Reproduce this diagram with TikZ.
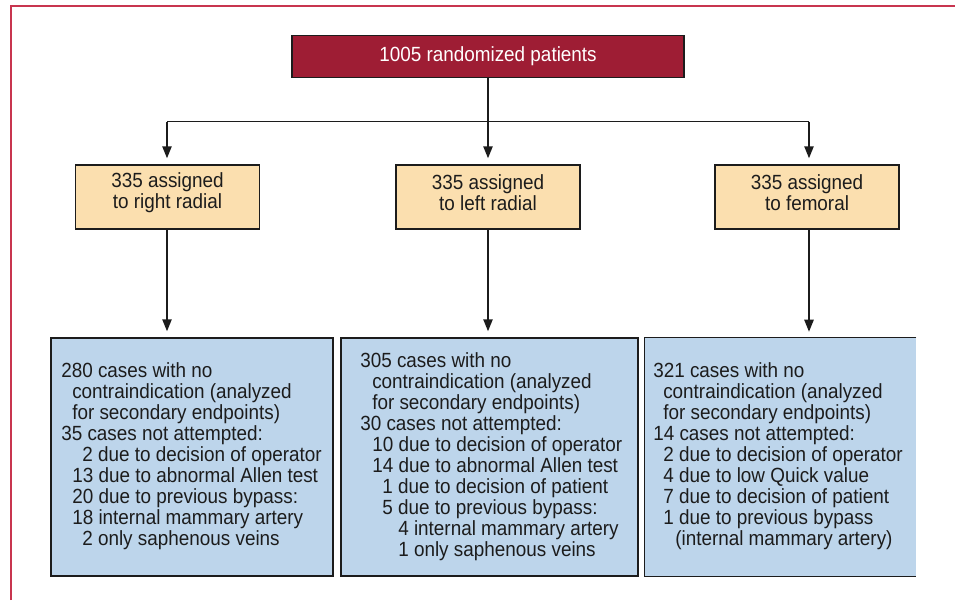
\documentclass[tikz,border=0pt]{standalone}
\usepackage{fontspec}
\setmainfont{Liberation Sans}[FakeStretch=0.92]
\usetikzlibrary{arrows.meta}
\definecolor{frame}{HTML}{C8354F}
\definecolor{topfill}{HTML}{9E1D34}
\definecolor{orange}{HTML}{FBDFAF}
\definecolor{blue}{HTML}{BDD5EB}
\definecolor{ink}{HTML}{1C1C1C}
\tikzset{
  box/.style={draw=ink, line width=1.1pt, minimum width=#1, inner sep=0pt},
  txt/.style={font=\fontsize{15.4}{15.75}\selectfont, text=ink, inner sep=0pt},
  line/.style={draw=ink, line width=1.1pt},
  arr/.style={line, -{Triangle[width=7pt,length=9pt]}, shorten >=4.5pt},
}
\begin{document}
\begin{tikzpicture}[x=0.75pt,y={(0pt,-0.75pt)}]
\useasboundingbox (0,0) rectangle (955,600);
% frame
\draw[frame, line width=1.5pt] (10.5,600) -- (10.5,5.5) -- (955,5.5);
% top box
\node[box=392*0.75pt, fill=topfill, minimum height=42*0.75pt, text=white, font=\fontsize{15.4}{15.75}\selectfont] (top) at (488,56.5) {1005 randomized patients};
% orange boxes
\node[box=184*0.75pt, fill=orange, minimum height=64*0.75pt] (o1) at (167.5,197) {};
\node[box=184*0.75pt, fill=orange, minimum height=64*0.75pt] (o2) at (488,197) {};
\node[box=184*0.75pt, fill=orange, minimum height=64*0.75pt] (o3) at (807,197) {};
\node[txt, align=center, yshift=3.4pt] (t1) at (o1) {335 assigned\\to right radial};
\node[txt, align=center, yshift=3.4pt] (t2) at (o2) {335 assigned\\to left radial};
\node[txt, align=center, yshift=3.4pt] (t3) at (o3) {335 assigned\\to femoral};
% blue boxes
\node[box=282*0.75pt, fill=blue, minimum height=238*0.75pt] (b1) at (192,457) {};
\node[box=297*0.75pt, fill=blue, minimum height=238*0.75pt] (b2) at (489.5,457) {};
\node[fill=blue, minimum width=271*0.75pt, minimum height=238*0.75pt, inner sep=0pt] (b3) at (780.5,457) {};
\draw[line] (b3.north east) -- (b3.north west) -- (b3.south west) -- (b3.south east);
% connectors
\coordinate (j) at (488,121.5);
\coordinate (jl) at (167,121.5);
\coordinate (jr) at (809,121.5);
\draw[line] (top.south) -- (j);
\draw[line] (jl) -- (jr);
\draw[arr] (jl) -- (o1.north -| jl);
\draw[arr] (j) -- (o2.north);
\draw[arr] (jr) -- (o3.north -| jr);
\draw[arr] (o1.south -| jl) -- (b1.north -| jl);
\draw[arr] (o2.south) -- (b2.north -| o2.south);
\draw[arr] (o3.south -| jr) -- (b3.north -| jr);
% left box text
\foreach \i/\x [count=\n] in {
  61/{280 cases with no},
  72/{contraindication (analyzed},
  72/{for secondary endpoints)},
  61/{35 cases not attempted:},
  82/{2 due to decision of operator},
  72/{13 due to abnormal Allen test},
  72/{20 due to previous bypass:},
  72/{18 internal mammary artery},
  82/{2 only saphenous veins}}
  \node[txt, anchor=base west] (L\n) at (\i, 370+7+21*\n-21) {\x};
% middle box text
\foreach \i/\x [count=\n] in {
  360/{305 cases with no},
  372/{contraindication (analyzed},
  372/{for secondary endpoints)},
  360/{30 cases not attempted:},
  372/{10 due to decision of operator},
  372/{14 due to abnormal Allen test},
  382/{1 due to decision of patient},
  382/{5 due to previous bypass:},
  398/{4 internal mammary artery},
  398/{1 only saphenous veins}}
  \node[txt, anchor=base west] (M\n) at (\i, 360+7+21*\n-21) {\x};
% right box text
\foreach \i/\x [count=\n] in {
  653/{321 cases with no},
  663/{contraindication (analyzed},
  663/{for secondary endpoints)},
  653/{14 cases not attempted:},
  663/{2 due to decision of operator},
  663/{4 due to low Quick value},
  663/{7 due to decision of patient},
  663/{1 due to previous bypass},
  675/{(internal mammary artery)}}
  \node[txt, anchor=base west] (R\n) at (\i, 370+7+21*\n-21) {\x};
\end{tikzpicture}
\end{document}
